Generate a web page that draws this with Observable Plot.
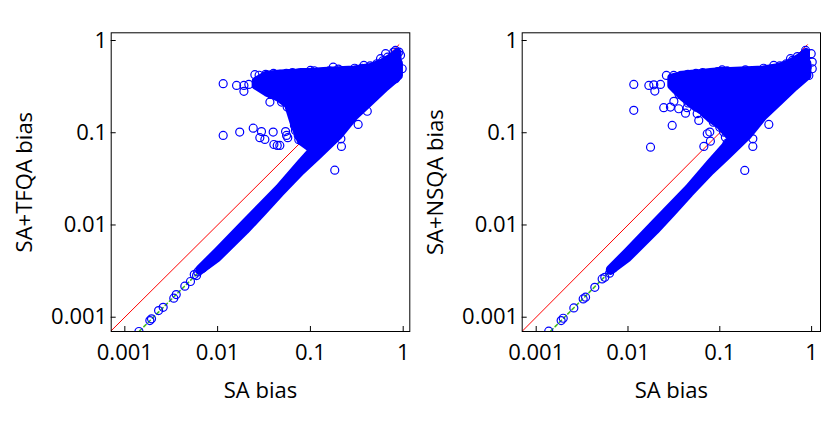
<!DOCTYPE html>
<html><head><meta charset="utf-8">
<script src="https://cdn.jsdelivr.net/npm/d3@7"></script>
<script src="https://cdn.jsdelivr.net/npm/@observablehq/plot@0.6"></script>
<style>
html,body{margin:0;padding:0;background:#fff;}
#wrap{position:relative;width:832px;height:432px;overflow:hidden;background:#fff;}
#wrap svg{position:absolute;top:0;}
</style></head><body><div id="wrap"></div>
<script>
// ---- text / ticks ----
const tickValues = [0.001, 0.01, 0.1, 1];
const xLabel = "SA bias";
const yLabelL = "SA+TFQA bias";
const yLabelR = "SA+NSQA bias";

// ---- reference lines ----
const diagX = [0.0007, 0.9];                 // y = x
const fitX = [0.0013, 0.0065];
const fitY = [0.00064, 0.0032];

// ---- dense diagonal band (edges of the packed circles) ----
const bandX    = [0.0065, 0.01, 0.02, 0.03, 0.047, 0.08, 0.12, 0.2, 0.3, 0.45, 0.65, 0.9];
const bandHigh = [0.00326, 0.00501, 0.0103, 0.0156, 0.0247, 0.046, 0.0724, 0.126, 0.189, 0.284, 0.41, 0.56];
const bandLow  = [0.00318, 0.00437, 0.0087, 0.0134, 0.022, 0.0383, 0.0561, 0.0914, 0.15, 0.22, 0.311, 0.411];

// ---- dense upper cloud ----
const cloudXL   = [0.026, 0.034, 0.045, 0.058, 0.068, 0.08, 0.1, 0.14, 0.2, 0.3, 0.45, 0.6, 0.75, 0.88];
const cloudTopL = [0.36, 0.42, 0.43, 0.44, 0.44, 0.45, 0.45, 0.46, 0.47, 0.48, 0.51, 0.57, 0.65, 0.74];
const cloudBotL = [0.32, 0.27, 0.24, 0.2, 0.12, 0.08, 0.068, 0.085, 0.126, 0.189, 0.284, 0.38, 0.46, 0.52];

const cloudXR   = [0.03, 0.04, 0.05, 0.065, 0.08, 0.1, 0.13, 0.2, 0.3, 0.45, 0.6, 0.75, 0.88];
const cloudTopR = [0.39, 0.42, 0.43, 0.44, 0.45, 0.46, 0.46, 0.47, 0.48, 0.51, 0.57, 0.65, 0.74];
const cloudBotR = [0.32, 0.24, 0.2, 0.17, 0.14, 0.12, 0.09, 0.126, 0.189, 0.284, 0.38, 0.46, 0.52];

// ---- individually visible points ----
const lowL = [[0.00142,0.0007],[0.00186,0.00092],[0.00194,0.00096],[0.00231,0.00118],[0.00259,0.00128],
  [0.00337,0.00161],[0.00358,0.00176],[0.00443,0.00217],[0.0051,0.00244],[0.0056,0.0029],[0.00593,0.00283],
  [0.0061,0.0031],[0.0069,0.0034],[0.0076,0.0037]];
const lowR = [[0.00137,0.000705],[0.00187,0.00092],[0.00197,0.000975],[0.00257,0.00126],[0.00325,0.00158],
  [0.00345,0.00165],[0.00435,0.00211],[0.00523,0.0026],[0.00559,0.00271],[0.0063,0.003],[0.0069,0.0034],[0.0076,0.0037]];

const outL = [[0.01148,0.34],[0.016,0.326],[0.0192,0.326],[0.0217,0.334],[0.0192,0.281],[0.0252,0.426],
  [0.03,0.34],[0.034,0.326],[0.0366,0.215],[0.0489,0.215],[0.054,0.215],[0.0562,0.19],[0.0662,0.182],
  [0.069,0.161],[0.072,0.148],[0.01148,0.0935],[0.0173,0.1016],[0.0242,0.112],[0.0297,0.103],[0.0285,0.0883],
  [0.0323,0.0846],[0.0397,0.1016],[0.0404,0.0746],[0.0439,0.0728],[0.0468,0.0728],[0.054,0.103],[0.0553,0.0935],
  [0.057,0.0883],[0.0673,0.12],[0.069,0.106],[0.0739,0.0935],[0.075,0.084],[0.085,0.086],[0.096,0.079],
  [0.1045,0.067],[0.216,0.0711],[0.213,0.086],[0.327,0.123],[0.183,0.0393],[0.41,0.171],
  [0.646,0.72],[0.57,0.635],[0.79,0.75],[0.9,0.75],[0.936,0.69],[0.975,0.494],[0.861,0.56],[0.78,0.376],
  [0.826,0.385],[0.826,0.78],[0.176,0.514],[0.1,0.474],[0.377,0.537],
  [0.027,0.33],[0.029,0.37],[0.032,0.30],[0.036,0.36],[0.028,0.42],[0.033,0.43],[0.04,0.44],[0.047,0.43],
  [0.055,0.44],[0.064,0.45],[0.075,0.44],[0.09,0.45],[0.11,0.47],[0.13,0.45],[0.16,0.47],[0.2,0.49],
  [0.25,0.47],[0.3,0.5],[0.36,0.5],[0.44,0.53],[0.52,0.56],[0.6,0.6],[0.68,0.66],
  [0.038,0.26],[0.043,0.25],[0.05,0.23],[0.06,0.21],[0.064,0.16],[0.068,0.13],[0.074,0.105],[0.08,0.095],[0.09,0.085]];

const outR = [[0.01156,0.334],[0.01156,0.175],[0.01687,0.326],[0.0191,0.331],[0.0226,0.334],[0.0196,0.283],
  [0.0262,0.418],[0.0315,0.418],[0.0423,0.418],[0.0303,0.12],[0.0176,0.0698],
  [0.0245,0.187],[0.029,0.19],[0.0316,0.219],[0.0357,0.182],[0.0423,0.163],[0.0441,0.187],[0.0567,0.161],
  [0.059,0.136],[0.067,0.198],[0.073,0.22],
  [0.067,0.071],[0.0778,0.1016],[0.079,0.081],[0.073,0.0975],[0.115,0.0895],[0.12,0.077],[0.142,0.086],
  [0.11,0.1016],[0.229,0.086],[0.229,0.071],[0.342,0.123],[0.187,0.039],
  [0.86,0.78],[0.99,0.72],[1.016,0.583],[1.016,0.494],[0.895,0.514],[0.79,0.436],[0.933,0.418],
  [0.589,0.635],[0.64,0.583],[0.106,0.48],[0.387,0.537],
  [0.033,0.30],[0.036,0.36],[0.038,0.42],[0.045,0.43],[0.055,0.44],[0.065,0.45],[0.08,0.44],[0.095,0.46],
  [0.12,0.47],[0.15,0.45],[0.19,0.48],[0.24,0.47],[0.3,0.5],[0.37,0.49],[0.45,0.53],[0.53,0.56],[0.62,0.61],[0.7,0.67],
  [0.036,0.26],[0.045,0.21],[0.055,0.19],[0.07,0.16],[0.085,0.13],[0.1,0.115]];

const BLUE = "#0000ff";
const yDomain = [0.0007, 1.212];

function panel({left, marginLeft, marginRight, xDomain, cloudX, cloudTop, cloudBot, low, out, yLabel}) {
  const H = 432 - 32.3 - 101;
  const W = 416 - marginLeft - marginRight;
  const svg = Plot.plot({
    width: 416, height: 432,
    marginLeft, marginRight, marginTop: 32.3, marginBottom: 101,
    style: {fontFamily: "'Open Sans', sans-serif", fontSize: "22px", color: "#000", background: "transparent", overflow: "visible"},
    x: {type: "log", domain: xDomain},
    y: {type: "log", domain: yDomain},
    marks: [
      Plot.line(diagX, {x: d => d, y: d => d, stroke: "#ff0000", strokeWidth: 1, clip: true}),
      Plot.line(fitX, {x: fitX, y: fitY, stroke: "#44bb22", strokeWidth: 1.6, strokeDasharray: "3,3", clip: true}),
      Plot.areaY(bandX, {x: bandX, y1: bandLow, y2: bandHigh, fill: BLUE, stroke: BLUE, strokeWidth: 9, strokeLinejoin: "round", clip: true}),
      Plot.areaY(cloudX, {x: cloudX, y1: cloudBot, y2: cloudTop, fill: BLUE, stroke: BLUE, strokeWidth: 8, strokeLinejoin: "round", clip: true}),
      Plot.dot(low, {x: d => d[0], y: d => d[1], r: 4, stroke: BLUE, strokeWidth: 1.2, fill: "none", clip: true}),
      Plot.dot(out, {x: d => d[0], y: d => d[1], r: 4, stroke: BLUE, strokeWidth: 1.2, fill: "none", clip: true}),
      Plot.frame({stroke: "#000", strokeWidth: 1}),
      Plot.gridX(tickValues, {stroke: "#000", strokeOpacity: 1, insetTop: H - 5}),
      Plot.gridY(tickValues, {stroke: "#000", strokeOpacity: 1, insetRight: W - 5}),
      Plot.axisX(tickValues, {tickSize: 0, tickPadding: 13, tickFormat: d => String(d), label: xLabel, labelAnchor: "center", labelArrow: "none", labelOffset: 66}),
      Plot.axisY(tickValues, {tickSize: 0, tickPadding: 4, tickFormat: d => String(d), label: yLabel, labelAnchor: "center", labelArrow: "none", labelOffset: 95})
    ]
  });
  svg.style.left = left + "px";
  return svg;
}

const wrap = document.getElementById("wrap");
wrap.appendChild(panel({left: 0, marginLeft: 110.7, marginRight: 6.7, xDomain: [0.000713, 1.178],
  cloudX: cloudXL, cloudTop: cloudTopL, cloudBot: cloudBotL, low: lowL, out: outL, yLabel: yLabelL}));
wrap.appendChild(panel({left: 416, marginLeft: 105.7, marginRight: 12, xDomain: [0.000704, 1.25],
  cloudX: cloudXR, cloudTop: cloudTopR, cloudBot: cloudBotR, low: lowR, out: outR, yLabel: yLabelR}));
</script></body></html>
